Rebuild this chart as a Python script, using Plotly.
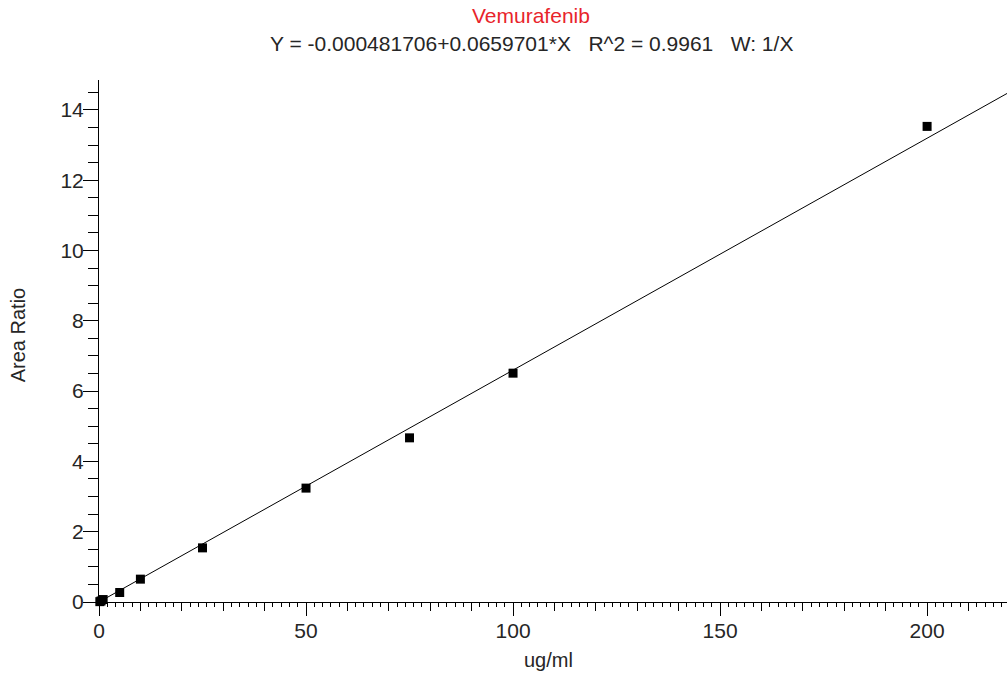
import plotly.graph_objects as go

# Data
conc = [0.2, 0.5, 1, 5, 10, 25, 50, 75, 100, 200]
area_ratio = [0.01, 0.03, 0.07, 0.27, 0.65, 1.54, 3.24, 4.67, 6.51, 13.53]
intercept = -0.000481706
slope = 0.0659701
fit_x = [0, 220]
fit_y = [intercept + slope * x for x in fit_x]

title_text = "Vemurafenib"
equation_text = "Y = -0.000481706+0.0659701*X   R^2 = 0.9961   W: 1/X"
x_title = "ug/ml"
y_title = "Area Ratio"

XMAX = 219.3
YMAX = 14.85
FONT = "Liberation Sans, Arial, sans-serif"
TXT = "#262626"

fig = go.Figure()
fig.add_trace(go.Scatter(x=fit_x, y=fit_y, mode="lines",
                         line=dict(color="black", width=1), showlegend=False,
                         hoverinfo="skip", cliponaxis=True))
fig.add_trace(go.Scatter(x=conc, y=area_ratio, mode="markers",
                         marker=dict(symbol="square", size=9, color="black"),
                         showlegend=False, cliponaxis=False))
# invisible trace on overlay axis for the medium (every 10) ticks
fig.add_trace(go.Scatter(x=[0], y=[0], xaxis="x2", mode="markers",
                         marker=dict(opacity=0), showlegend=False, hoverinfo="skip"))

fig.update_layout(
    width=1007, height=675,
    margin=dict(l=99, r=0, t=80, b=73, autoexpand=False),
    paper_bgcolor="white", plot_bgcolor="white",
    font=dict(family=FONT, size=21, color=TXT),
    xaxis=dict(range=[0, XMAX], dtick=50, tick0=0, showgrid=False, zeroline=False,
               showline=True, linecolor="black", linewidth=1, automargin=False,
               ticks="outside", ticklen=13, tickwidth=1, tickcolor="black",
               ticklabelstandoff=-3,
               minor=dict(dtick=2, tick0=0, ticks="outside", ticklen=4, tickcolor="black", tickwidth=1),
               tickfont=dict(size=21, color=TXT)),
    xaxis2=dict(range=[0, XMAX], overlaying="x", anchor="y", side="bottom",
                dtick=10, tick0=0, ticks="outside", ticklen=8, tickcolor="black",
                showticklabels=False, showgrid=False, zeroline=False, showline=False),
    yaxis=dict(range=[0, YMAX], dtick=2, tick0=0, showgrid=False, zeroline=False,
               showline=True, linecolor="black", linewidth=1, automargin=False,
               ticks="outside", ticklen=15, tickwidth=1, tickcolor="black",
               ticklabelstandoff=-5,
               minor=dict(dtick=0.5, tick0=0, ticks="outside", ticklen=10, tickcolor="black", tickwidth=1),
               tickfont=dict(size=21, color=TXT)),
    annotations=[
        dict(text=title_text, xref="paper", yref="paper", x=0.476, y=1, yshift=65,
             showarrow=False, font=dict(size=21, color="#e8242b", family=FONT), yanchor="middle"),
        dict(text=equation_text, xref="paper", yref="paper", x=0.476, y=1, yshift=37,
             showarrow=False, font=dict(size=21, color=TXT, family=FONT), yanchor="middle"),
        dict(text=x_title, xref="paper", yref="paper", x=0.4945, y=0, yshift=-58,
             showarrow=False, font=dict(size=20, color=TXT, family=FONT), yanchor="middle"),
        dict(text=y_title, xref="paper", yref="paper", x=0, y=0.511, xshift=-81, textangle=-90,
             showarrow=False, font=dict(size=20, color=TXT, family=FONT), xanchor="center", yanchor="middle"),
    ],
)

fig.write_html(
    "out.html",
    config={"displayModeBar": False},
    post_script="document.body.style.margin='0';document.documentElement.style.overflow='hidden';document.body.style.overflow='hidden';",
)
